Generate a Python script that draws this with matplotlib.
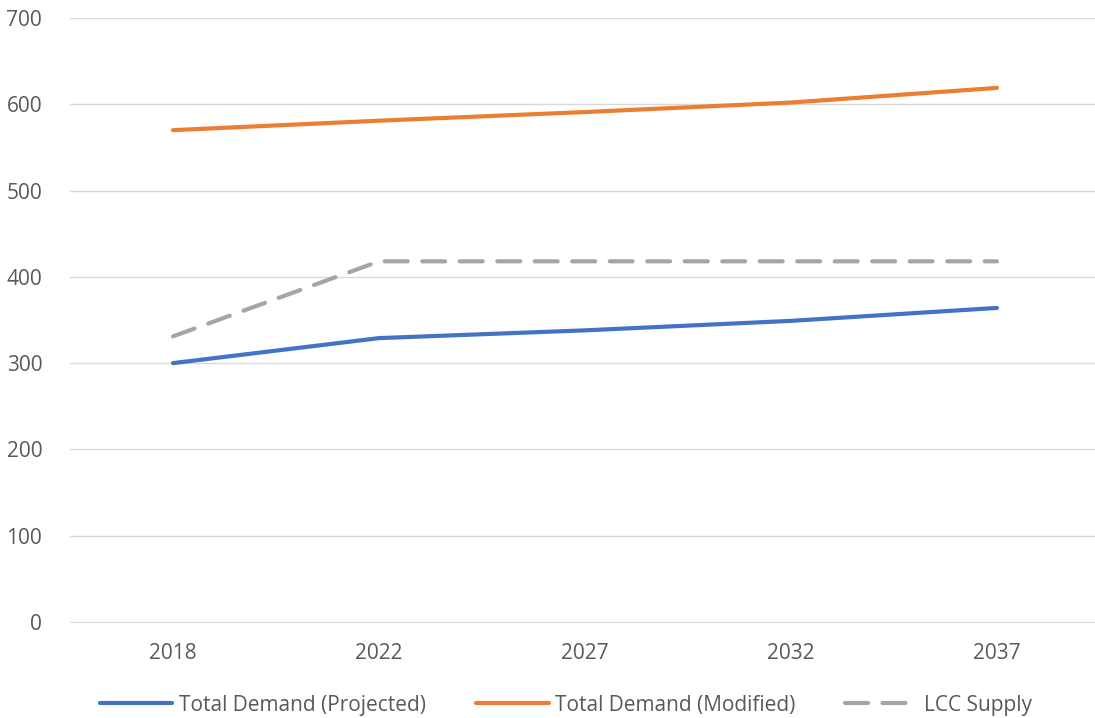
import matplotlib
matplotlib.use('Agg')
import matplotlib.pyplot as plt

years = ['2018', '2022', '2027', '2032', '2037']
demand_projected = [300, 329, 338, 349, 364]
demand_modified = [570, 581, 591, 602, 619]
lcc_supply = [331, 418, 418, 418, 418]

plt.rcParams['font.family'] = ['Open Sans', 'DejaVu Sans']
text_color = '#595959'

fig = plt.figure(figsize=(10.95, 7.18), dpi=100)
ax = fig.add_axes([70 / 1095, 1 - 622 / 718, 1 - 70 / 1095, (622 - 18) / 718])

x = range(len(years))
ax.plot(x, demand_projected, color='#4472C4', lw=3, solid_capstyle='round',
        label='Total Demand (Projected)')
ax.plot(x, demand_modified, color='#ED7D31', lw=3, solid_capstyle='round',
        label='Total Demand (Modified)')
ax.plot(x, lcc_supply, color='#A5A5A5', lw=3, dashes=(5.5, 3.5),
        dash_capstyle='round', label='LCC Supply')

ax.set_ylim(0, 700)
ax.set_yticks(range(0, 701, 100))
ax.set_xlim(-0.5, 4.476)
ax.set_xticks(list(x))
ax.set_xticklabels(years)

ax.grid(axis='y', color='#D9D9D9', lw=1)
ax.set_axisbelow(True)
for s in ['top', 'right', 'left']:
    ax.spines[s].set_visible(False)
ax.spines['bottom'].set_color('#D9D9D9')
ax.tick_params(axis='both', length=0, labelsize=15, colors=text_color)
ax.tick_params(axis='x', pad=15)
ax.tick_params(axis='y', pad=20)

fig.legend(loc='center', bbox_to_anchor=(566 / 1095, 1 - 705 / 718), ncol=3,
           frameon=False, fontsize=15, labelcolor=text_color,
           handlelength=3.5, columnspacing=2.4, handletextpad=0.3)

fig.savefig('out.png', dpi=100)
